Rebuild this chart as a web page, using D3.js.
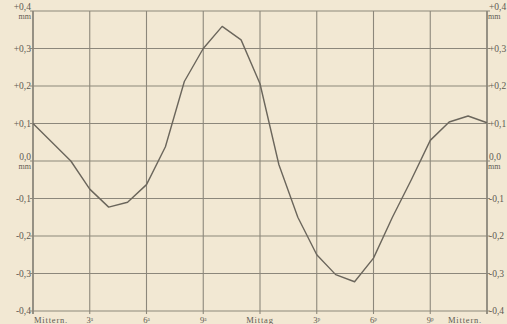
<!DOCTYPE html>
<html>
<head>
<meta charset="utf-8">
<script src="https://cdn.jsdelivr.net/npm/d3@7"></script>
<style>
  html, body { margin: 0; padding: 0; background: #f2e8d3; }
  svg { display: block; }
  text { font-family: "Liberation Serif", "DejaVu Serif", serif; fill: #5e5a52; }
</style>
</head>
<body>
<div id="chart"></div>
<script>

// hours after midnight and the daily variation in mm
var hours = [0, 1, 2, 3, 4, 5, 6, 7, 8, 9, 10, 11, 12, 13, 14, 15, 16, 17, 18, 19, 20, 21, 22, 23, 24]
var values = [0.10, 0.05, 0.00, -0.075, -0.123, -0.11, -0.063, 0.038, 0.212, 0.30, 0.359, 0.323, 0.206,
              -0.01, -0.15, -0.25, -0.303, -0.322, -0.259, -0.15, -0.05, 0.055, 0.104, 0.12, 0.102]

var xTicks = [0, 3, 6, 9, 12, 15, 18, 21, 24]
var xLabels = ["Mittern.", "3ᵃ", "6ᵃ", "9ᵃ", "Mittag", "3ᵖ", "6ᵖ", "9ᵖ", "Mittern."]

var yTicks = [0.4, 0.3, 0.2, 0.1, 0.0, -0.1, -0.2, -0.3, -0.4]
var yLabels = ["+0,4", "+0,3", "+0,2", "+0,1", "0,0", "-0,1", "-0,2", "-0,3", "-0,4"]

var width = 507, height = 324
var margin = {top: 11, right: 20, bottom: 11, left: 33}

var svg = d3.select("#chart").append("svg")
    .attr("width", width)
    .attr("height", height)

var x = d3.scaleLinear()
    .domain([0, 24])
    .range([margin.left, width - margin.right])

var y = d3.scaleLinear()
    .domain([-0.4, 0.4])
    .range([height - margin.bottom - 2, margin.top])

var grid = svg.append("g")

grid.selectAll(".hline")
    .data(yTicks)
    .enter().append("line")
    .attr("x1", x(0) - 3)
    .attr("x2", x(24) + 3)
    .attr("y1", d => y(d))
    .attr("y2", d => y(d))
    .attr("stroke", "#8c877b")
    .attr("stroke-width", 1.1)

grid.selectAll(".vline")
    .data(xTicks)
    .enter().append("line")
    .attr("x1", d => x(d))
    .attr("x2", d => x(d))
    .attr("y1", y(0.4))
    .attr("y2", y(-0.4) + 3)
    .attr("stroke", "#8c877b")
    .attr("stroke-width", d => (d === 0 || d === 24) ? 1.8 : 1.1)

var labelY = (d, i) => (i === 0 || i === 4) ? y(d) - 1 : y(d) + 3

// left labels
svg.append("g").selectAll("text")
    .data(yTicks)
    .enter().append("text")
    .attr("x", x(0) - 2)
    .attr("y", labelY)
    .attr("text-anchor", "end")
    .attr("font-size", 9.5)
    .text((d, i) => yLabels[i])

// right labels
svg.append("g").selectAll("text")
    .data(yTicks)
    .enter().append("text")
    .attr("x", x(24) + 2)
    .attr("y", labelY)
    .attr("text-anchor", "start")
    .attr("font-size", 9.5)
    .text((d, i) => yLabels[i])

// unit marks under +0,4 and 0,0
var units = [0.4, 0.0]
svg.append("g").selectAll("text")
    .data(units)
    .enter().append("text")
    .attr("x", x(0) - 2)
    .attr("y", d => y(d) + 8)
    .attr("text-anchor", "end")
    .attr("font-size", 8)
    .text("mm")

svg.append("g").selectAll("text")
    .data(units)
    .enter().append("text")
    .attr("x", x(24) + 1)
    .attr("y", d => y(d) + 8)
    .attr("text-anchor", "start")
    .attr("font-size", 8)
    .text("mm")

// bottom labels
svg.append("g").selectAll("text")
    .data(xTicks)
    .enter().append("text")
    .attr("x", (d, i) => i === 0 ? x(d) + 1 : i === 8 ? x(d) - 5 : x(d))
    .attr("y", height - 1)
    .attr("text-anchor", (d, i) => i === 0 ? "start" : i === 8 ? "end" : "middle")
    .attr("font-size", 8.5)
    .attr("letter-spacing", (d, i) => (i === 0 || i === 4 || i === 8) ? 0.8 : 0)
    .text((d, i) => xLabels[i])

var line = d3.line()
    .x((d, i) => x(hours[i]))
    .y(d => y(d))

svg.append("path")
    .datum(values)
    .attr("d", line)
    .attr("fill", "none")
    .attr("stroke", "#6b665c")
    .attr("stroke-width", 1.4)
    .attr("stroke-linejoin", "round")

</script>
</body>
</html>
